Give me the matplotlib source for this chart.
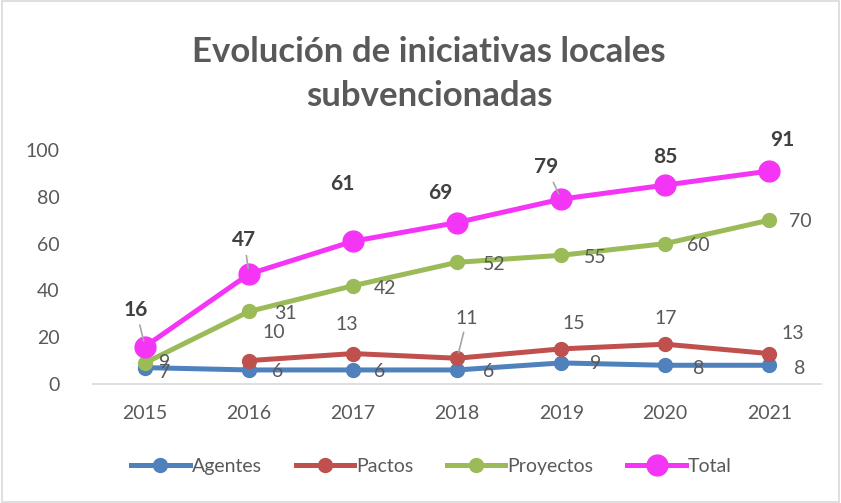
import matplotlib.pyplot as plt
from matplotlib.patches import Rectangle
from matplotlib.lines import Line2D

plt.rcParams["font.family"] = ["Lato", "DejaVu Sans"]

years = ["2015", "2016", "2017", "2018", "2019", "2020", "2021"]
agentes = [7, 6, 6, 6, 9, 8, 8]
pactos = [None, 10, 13, 11, 15, 17, 13]
proyectos = [9, 31, 42, 52, 55, 60, 70]
total = [16, 47, 61, 69, 79, 85, 91]

# label offsets in pixels (dx, dy)
off_total = [(-9, 37), (-5, 34), (-11, 57), (-17, 30), (-15, 32), (0, 28), (13, 31)]
off_proy = [(20, 0), (36, -2), (32, -3), (37, -2), (34, -2), (33, -2), (31, -1)]
off_pact = [None, (25, 28), (-6, 29), (10, 40), (13, 25), (0, 26), (23, 20)]
off_agen = [(20, -5), (29, -2), (27, -2), (31, -2), (34, -1), (33, -3), (30, -3)]
leaders_total = [0, 1, 4]
leaders_pact = [3]

c_agen = "#4f81bd"
c_pact = "#c0504d"
c_proy = "#9bbb59"
c_total = "#f535f5"
txt = "#595959"

fig = plt.figure(figsize=(8.41, 5.03), dpi=100)
ax = fig.add_axes([0.1106, 0.2366, 0.866, 0.4652])
x = list(range(len(years)))

ax.plot(x, agentes, color=c_agen, lw=3.6, marker="o", ms=10, zorder=3)
px = [i for i, v in enumerate(pactos) if v is not None]
ax.plot(px, [pactos[i] for i in px], color=c_pact, lw=3.6, marker="o", ms=10, zorder=4)
ax.plot(x, proyectos, color=c_proy, lw=3.6, marker="o", ms=10, zorder=5)
ax.plot(x, total, color=c_total, lw=3.6, marker="o", ms=15, zorder=6)


def labels(vals, offs, bold=False, leaders=()):
    for i, v in enumerate(vals):
        if v is None:
            continue
        ap = None
        if i in leaders:
            ap = dict(arrowstyle="-", color="#a6a6a6", lw=1.2, shrinkA=2, shrinkB=4)
        ax.annotate(str(v), (i, v), xytext=offs[i], textcoords="offset pixels",
                    ha="center", va="center", fontsize=15 if bold else 14,
                    fontweight="bold" if bold else "normal", color=txt if not bold else "#404040",
                    arrowprops=ap, annotation_clip=False, zorder=10)


labels(agentes, off_agen)
labels(pactos, off_pact, leaders=leaders_pact)
labels(proyectos, off_proy)
labels(total, off_total, bold=True, leaders=leaders_total)

ax.set_xlim(-0.5, 6.5)
ax.set_ylim(0, 100)
ax.set_yticks(range(0, 101, 20))
ax.set_xticks(x)
ax.set_xticklabels(years)
for s in ["top", "right", "left"]:
    ax.spines[s].set_visible(False)
ax.spines["bottom"].set_color("#d9d9d9")
ax.spines["bottom"].set_linewidth(1.2)
ax.tick_params(axis="both", length=0, labelsize=14, colors=txt)
ax.tick_params(axis="x", pad=15)
ax.tick_params(axis="y", pad=24)

fig.text(0.51, 0.853, "Evolución de iniciativas locales\nsubvencionadas", ha="center", va="center",
         fontsize=25, fontweight="bold", color=txt, linespacing=1.45)

handles = [
    Line2D([], [], color=c_agen, lw=3.6, marker="o", ms=10),
    Line2D([], [], color=c_pact, lw=3.6, marker="o", ms=10),
    Line2D([], [], color=c_proy, lw=3.6, marker="o", ms=10),
    Line2D([], [], color=c_total, lw=3.6, marker="o", ms=15),
]
fig.legend(handles, ["Agentes", "Pactos", "Proyectos", "Total"], loc="center",
           bbox_to_anchor=(0.513, 0.072), ncol=4, frameon=False, fontsize=14,
           labelcolor=txt, handlelength=3.0, handletextpad=0.1, columnspacing=1.75)

fig.add_artist(Rectangle((0.002, 0.002), 0.996, 0.996, transform=fig.transFigure,
                         fill=False, edgecolor="#d9d9d9", lw=1.2))

fig.savefig("out.png", dpi=100)
